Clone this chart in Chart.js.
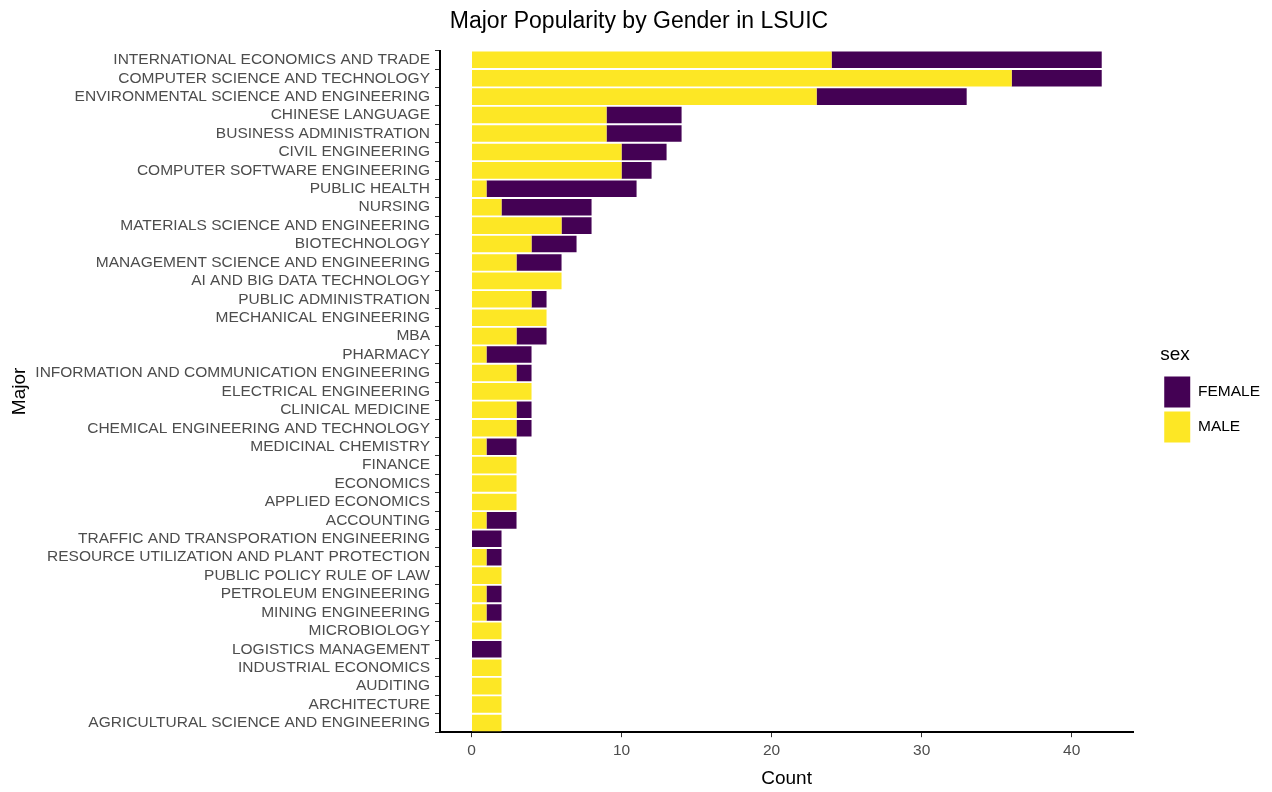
<!DOCTYPE html>
<html>
<head>
<meta charset="utf-8">
<title>Major Popularity by Gender in LSUIC</title>
<script src="https://cdn.jsdelivr.net/npm/chart.js@4/dist/chart.umd.min.js"></script>
<style>
  html, body { margin: 0; padding: 0; background: #fff; }
  #wrap { width: 1272px; height: 792px; position: relative; }
</style>
</head>
<body>
<div id="wrap"><canvas id="chartMajors"></canvas></div>
<script>
(function () {
  "use strict";

  /* ---------- data ---------- */
  const majors = [
    "INTERNATIONAL ECONOMICS AND TRADE",
    "COMPUTER SCIENCE AND TECHNOLOGY",
    "ENVIRONMENTAL SCIENCE AND ENGINEERING",
    "CHINESE LANGUAGE",
    "BUSINESS ADMINISTRATION",
    "CIVIL ENGINEERING",
    "COMPUTER SOFTWARE ENGINEERING",
    "PUBLIC HEALTH",
    "NURSING",
    "MATERIALS SCIENCE AND ENGINEERING",
    "BIOTECHNOLOGY",
    "MANAGEMENT SCIENCE AND ENGINEERING",
    "AI AND BIG DATA TECHNOLOGY",
    "PUBLIC ADMINISTRATION",
    "MECHANICAL ENGINEERING",
    "MBA",
    "PHARMACY",
    "INFORMATION AND COMMUNICATION ENGINEERING",
    "ELECTRICAL ENGINEERING",
    "CLINICAL MEDICINE",
    "CHEMICAL ENGINEERING AND TECHNOLOGY",
    "MEDICINAL CHEMISTRY",
    "FINANCE",
    "ECONOMICS",
    "APPLIED ECONOMICS",
    "ACCOUNTING",
    "TRAFFIC AND TRANSPORATION ENGINEERING",
    "RESOURCE UTILIZATION AND PLANT PROTECTION",
    "PUBLIC POLICY RULE OF LAW",
    "PETROLEUM ENGINEERING",
    "MINING ENGINEERING",
    "MICROBIOLOGY",
    "LOGISTICS MANAGEMENT",
    "INDUSTRIAL ECONOMICS",
    "AUDITING",
    "ARCHITECTURE",
    "AGRICULTURAL SCIENCE AND ENGINEERING"
  ];
  const maleCounts = [
    24, 36, 23, 9, 9, 10, 10, 1, 2, 6, 4, 3, 6, 4, 5, 3, 1, 3, 4,
    3, 3, 1, 3, 3, 3, 1, 0, 1, 2, 1, 1, 2, 0, 2, 2, 2, 2
  ];
  const femaleCounts = [
    18, 6, 10, 5, 5, 3, 2, 10, 6, 2, 3, 3, 0, 1, 0, 2, 3, 1, 0,
    1, 1, 2, 0, 0, 0, 2, 2, 1, 0, 1, 1, 0, 2, 0, 0, 0, 0
  ];
  const xTicks = [0, 10, 20, 30, 40];

  /* ---------- style ---------- */
  const FONT = "'Liberation Sans', Arial, sans-serif";
  const MALE = "#FDE725";
  const FEMALE = "#440154";
  const TICK_TEXT = "#4D4D4D";

  Chart.defaults.font.family = FONT;

  new Chart(document.getElementById("chartMajors"), {
    type: "bar",
    data: {
      labels: majors,
      datasets: [
        { label: "MALE", data: maleCounts, backgroundColor: MALE,
          barPercentage: 0.9, categoryPercentage: 1.0 },
        { label: "FEMALE", data: femaleCounts, backgroundColor: FEMALE,
          barPercentage: 0.9, categoryPercentage: 1.0 }
      ]
    },
    options: {
      indexAxis: "y",
      responsive: true,
      maintainAspectRatio: false,
      animation: false,
      layout: { padding: { top: 0, right: 2, bottom: 0, left: 8 } },
      plugins: {
        title: {
          display: true,
          text: "Major Popularity by Gender in LSUIC",
          color: "#000",
          font: { size: 23, weight: "normal" },
          padding: { top: 8, bottom: 15 }
        },
        legend: {
          position: "right",
          reverse: true,
          align: "center",
          title: {
            display: true,
            position: "start",
            text: "sex",
            color: "#000",
            font: { size: 19 },
            padding: { top: 0, bottom: 4 }
          },
          labels: {
            boxWidth: 26,
            boxHeight: 31,
            padding: 4,
            color: "#000",
            font: { size: 15.5 }
          }
        },
        tooltip: { enabled: false }
      },
      scales: {
        x: {
          stacked: true,
          min: -2.1,
          max: 44.1,
          afterBuildTicks: (scale) => { scale.ticks = xTicks.map(v => ({ value: v })); },
          grid: { drawOnChartArea: false, drawTicks: true, tickLength: 5, tickColor: "#333" },
          border: { display: true, color: "#000", width: 2 },
          ticks: { color: TICK_TEXT, font: { size: 15.5 }, padding: 4 },
          title: {
            display: true, text: "Count", color: "#000",
            font: { size: 19, lineHeight: 0.8 }, padding: { top: 7, bottom: 6 }
          }
        },
        y: {
          stacked: true,
          offset: true,
          afterFit: (scale) => { scale.width = 432; },
          grid: { drawOnChartArea: false, drawTicks: true, tickLength: 5, tickColor: "#333" },
          border: { display: true, color: "#000", width: 2 },
          ticks: { color: TICK_TEXT, font: { size: 15.5 }, padding: 5, autoSkip: false },
          title: { display: true, text: "Major", color: "#000", font: { size: 19 }, padding: { top: 0, bottom: 0 } }
        },
        // empty strip between the panel and the legend
        gap: {
          type: "category",
          axis: "y",
          position: "right",
          afterFit: (scale) => { scale.width = 27; },
          grid: { display: false },
          border: { display: false },
          ticks: { display: false }
        }
      }
    }
  });
})();
</script>
</body>
</html>
